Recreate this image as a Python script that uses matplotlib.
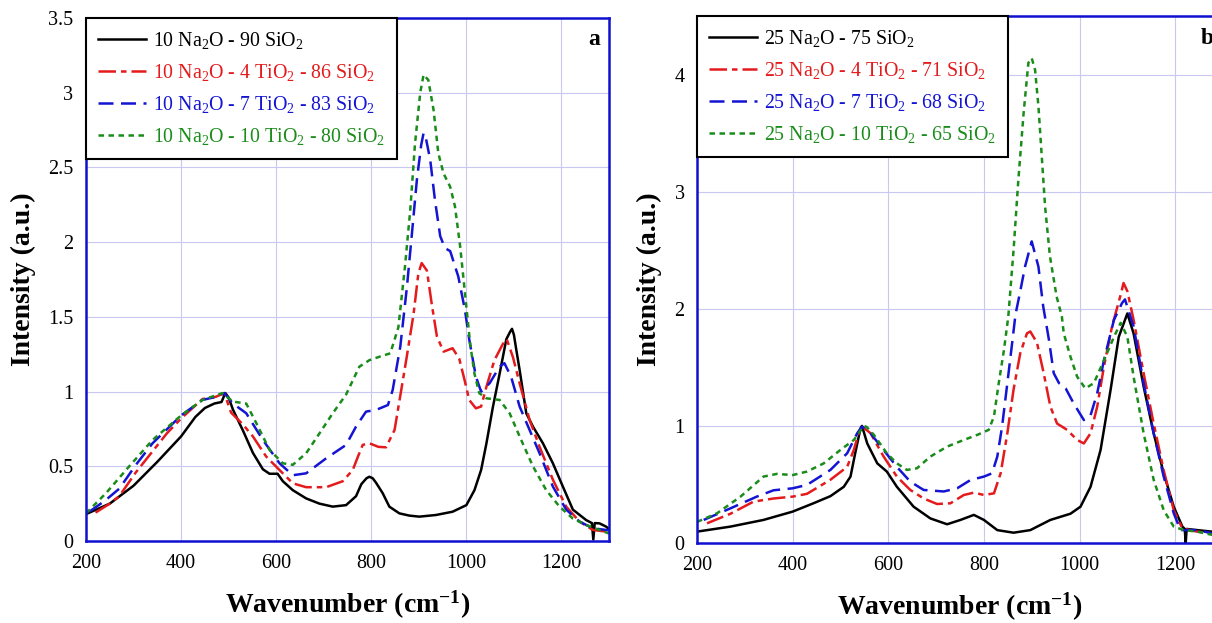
import matplotlib
matplotlib.use("Agg")
import matplotlib.pyplot as plt
from matplotlib.ticker import FuncFormatter, MultipleLocator

plt.rcParams['font.family'] = ['Liberation Serif', 'DejaVu Serif']
plt.rcParams['mathtext.fontset'] = 'custom'
plt.rcParams['mathtext.rm'] = 'Liberation Serif'
plt.rcParams['mathtext.it'] = 'Liberation Serif:italic'
plt.rcParams['mathtext.bf'] = 'Liberation Serif:bold'

# ---------------- Panel a data ----------------
a_black_w = [200, 250, 300, 350, 400, 430, 450, 470, 485, 493, 500, 509, 530, 551, 572, 586, 603, 614, 635, 663,
             691, 719, 747, 768, 779, 790, 796, 803, 810, 824, 838, 859, 880, 901, 936, 971, 1000, 1017, 1031, 1042,
             1056, 1070, 1084, 1092, 1096, 1100, 1105, 1112, 1126, 1140, 1161, 1182, 1203, 1224, 1252, 1264, 1267,
             1270, 1280, 1294, 1300]
a_black_i = [0.18, 0.25, 0.37, 0.53, 0.70, 0.83, 0.89, 0.92, 0.93, 0.99, 0.96, 0.88, 0.74, 0.59, 0.48, 0.45, 0.45,
             0.40, 0.34, 0.285, 0.25, 0.23, 0.24, 0.30, 0.38, 0.42, 0.43, 0.42, 0.39, 0.32, 0.23, 0.185, 0.17, 0.163,
             0.174, 0.196, 0.24, 0.34, 0.475, 0.65, 0.90, 1.12, 1.35, 1.40, 1.42, 1.38, 1.28, 1.145, 0.855, 0.766,
             0.654, 0.52, 0.364, 0.21, 0.14, 0.12, 0.01, 0.12, 0.118, 0.096, 0.08]

a_red_w = [220, 250, 270, 305, 340, 370, 400, 445, 473, 491, 505, 530, 551, 579, 607, 635, 663, 705, 740, 761, 772,
           782, 796, 815, 831, 849, 863, 875, 889, 899, 906, 917, 927, 938, 952, 971, 985, 996, 1006, 1020, 1031,
           1042, 1059, 1077, 1085, 1098, 1112, 1133, 1154, 1182, 1210, 1238, 1266, 1294, 1300]
a_red_i = [0.19, 0.25, 0.30, 0.46, 0.60, 0.72, 0.82, 0.95, 0.965, 0.99, 0.86, 0.78, 0.70, 0.565, 0.475, 0.386, 0.36,
           0.36, 0.40, 0.475, 0.565, 0.643, 0.654, 0.63, 0.627, 0.743, 1.01, 1.24, 1.52, 1.79, 1.86, 1.81, 1.59,
           1.37, 1.267, 1.29, 1.22, 1.08, 0.944, 0.888, 0.90, 1.03, 1.21, 1.32, 1.35, 1.23, 1.056, 0.81, 0.63, 0.41,
           0.23, 0.13, 0.074, 0.063, 0.06]

a_blue_w = [207, 240, 270, 305, 340, 400, 445, 477, 491, 509, 537, 572, 607, 635, 663, 705, 747, 768, 789, 810, 835,
            845, 856, 861, 875, 885, 896, 905, 910, 914, 924, 934, 945, 955, 966, 983, 997, 1006, 1011, 1020, 1031,
            1049, 1070, 1080, 1094, 1112, 1133, 1154, 1182, 1210, 1238, 1266, 1294, 1300]
a_blue_i = [0.196, 0.27, 0.35, 0.51, 0.654, 0.84, 0.944, 0.967, 0.99, 0.92, 0.855, 0.676, 0.52, 0.44, 0.453, 0.553,
            0.643, 0.766, 0.866, 0.877, 0.91, 1.01, 1.21, 1.30, 1.70, 2.04, 2.42, 2.65, 2.73, 2.71, 2.55, 2.28, 2.04,
            1.96, 1.94, 1.77, 1.546, 1.35, 1.26, 1.10, 1.0, 1.056, 1.167, 1.19, 1.10, 0.90, 0.743, 0.587, 0.364,
            0.21, 0.13, 0.085, 0.074, 0.07]

a_green_w = [200, 242, 291, 340, 400, 445, 487, 509, 537, 558, 586, 614, 635, 663, 691, 719, 747, 775, 796, 818,
             840, 857, 871, 882, 892, 903, 910, 920, 931, 941, 952, 966, 976, 987, 997, 1008, 1017, 1027, 1042,
             1070, 1091, 1112, 1140, 1168, 1196, 1224, 1252, 1280, 1300]
a_green_i = [0.185, 0.32, 0.50, 0.676, 0.84, 0.944, 0.99, 0.933, 0.92, 0.79, 0.61, 0.52, 0.51, 0.587, 0.72, 0.855,
             0.98, 1.167, 1.21, 1.234, 1.256, 1.43, 1.84, 2.215, 2.66, 3.0, 3.12, 3.085, 2.885, 2.595, 2.46, 2.37,
             2.24, 1.97, 1.66, 1.32, 1.12, 0.99, 0.955, 0.944, 0.855, 0.70, 0.50, 0.34, 0.23, 0.15, 0.107, 0.074,
             0.05]

# ---------------- Panel b data ----------------
b_black_w = [200, 270, 339, 400, 444, 479, 507, 521, 531, 542, 545, 556, 577, 597, 618, 653, 688, 723, 751, 779,
             800, 828, 862, 897, 939, 981, 1002, 1023, 1044, 1065, 1082, 1100, 1113, 1134, 1155, 1176, 1197, 1215,
             1220, 1222, 1224, 1246, 1277, 1300]
b_black_i = [0.097, 0.14, 0.197, 0.268, 0.34, 0.40, 0.48, 0.567, 0.77, 0.98, 1.0, 0.85, 0.68, 0.61, 0.48, 0.31,
             0.21, 0.16, 0.197, 0.24, 0.197, 0.11, 0.088, 0.11, 0.197, 0.25, 0.31, 0.48, 0.795, 1.31, 1.76, 1.96,
             1.79, 1.336, 0.937, 0.595, 0.31, 0.14, 0.12, 0.0, 0.12, 0.11, 0.097, 0.09]

b_red_w = [221, 270, 318, 360, 400, 430, 479, 514, 528, 542, 547, 563, 590, 618, 646, 674, 702, 730, 758, 779, 800,
           821, 835, 849, 862, 876, 890, 897, 911, 925, 939, 953, 974, 995, 1009, 1023, 1037, 1051, 1068, 1086,
           1092, 1100, 1113, 1134, 1155, 1176, 1197, 1215, 1246, 1277, 1300]
b_red_i = [0.168, 0.25, 0.353, 0.38, 0.396, 0.42, 0.54, 0.65, 0.795, 0.994, 0.99, 0.937, 0.74, 0.567, 0.453, 0.38,
           0.333, 0.339, 0.41, 0.43, 0.41, 0.424, 0.595, 0.937, 1.31, 1.62, 1.79, 1.806, 1.71, 1.45, 1.165, 1.02,
           0.966, 0.88, 0.85, 0.937, 1.165, 1.507, 1.85, 2.12, 2.22, 2.15, 1.906, 1.45, 1.02, 0.62, 0.28, 0.125,
           0.097, 0.083, 0.08]

b_blue_w = [214, 270, 325, 360, 400, 430, 479, 514, 535, 545, 563, 590, 618, 646, 674, 716, 744, 772, 800, 817, 828,
            838, 849, 859, 866, 876, 886, 900, 914, 924, 936, 946, 957, 971, 988, 1009, 1023, 1037, 1051, 1072, 1089,
            1095, 1113, 1134, 1155, 1176, 1197, 1211, 1246, 1277, 1300]
b_blue_i = [0.197, 0.296, 0.396, 0.45, 0.467, 0.496, 0.624, 0.766, 0.937, 0.994, 0.937, 0.795, 0.65, 0.524, 0.453,
            0.44, 0.467, 0.538, 0.567, 0.595, 0.738, 0.994, 1.365, 1.706, 1.95, 2.15, 2.36, 2.575, 2.36, 2.02, 1.735,
            1.45, 1.365, 1.32, 1.19, 1.05, 1.09, 1.28, 1.56, 1.906, 2.05, 2.08, 1.85, 1.365, 0.937, 0.567, 0.254,
            0.11, 0.11, 0.083, 0.08]

b_green_w = [200, 242, 291, 339, 367, 400, 430, 465, 500, 528, 549, 555, 570, 597, 618, 639, 660, 688, 723, 758,
             786, 810, 821, 831, 842, 851, 862, 872, 883, 893, 900, 907, 914, 921, 928, 938, 952, 963, 967, 981,
             995, 1012, 1030, 1051, 1072, 1086, 1100, 1113, 1134, 1155, 1176, 1197, 1218, 1246, 1277, 1300]
b_green_i = [0.18, 0.254, 0.396, 0.567, 0.59, 0.58, 0.61, 0.68, 0.795, 0.88, 1.0, 0.99, 0.923, 0.766, 0.68, 0.624,
             0.638, 0.738, 0.823, 0.88, 0.923, 0.966, 1.08, 1.365, 1.65, 1.934, 2.50, 3.10, 3.67, 4.10, 4.14, 4.04,
             3.73, 3.30, 2.87, 2.45, 2.105, 1.934, 1.79, 1.59, 1.42, 1.32, 1.365, 1.56, 1.76, 1.88, 1.76, 1.42,
             0.937, 0.54, 0.28, 0.14, 0.11, 0.097, 0.07, 0.07]

labels_a = ["10 Na$_2$O - 90 SiO$_2$", "10 Na$_2$O - 4 TiO$_2$ - 86 SiO$_2$",
            "10 Na$_2$O - 7 TiO$_2$ - 83 SiO$_2$", "10 Na$_2$O - 10 TiO$_2$ - 80 SiO$_2$"]
labels_b = ["25 Na$_2$O - 75 SiO$_2$", "25 Na$_2$O - 4 TiO$_2$ - 71 SiO$_2$",
            "25 Na$_2$O - 7 TiO$_2$ - 68 SiO$_2$", "25 Na$_2$O - 10 TiO$_2$ - 65 SiO$_2$"]

colors = ['black', '#e41a1c', '#1414d2', '#1a8c1a']
styles = ['-', (0, (7, 2, 2.2, 2)), (0, (6, 3)), (0, (2.2, 1.8))]

W, H = 1212, 623
fig = plt.figure(figsize=(W / 100, H / 100), dpi=100)
ax1 = fig.add_axes([86 / W, (H - 541) / H, 523 / W, 523 / H])
ax2 = fig.add_axes([697 / W, (H - 543) / H, 526 / W, 527 / H])

series_a = [(a_black_w, a_black_i), (a_red_w, a_red_i), (a_blue_w, a_blue_i), (a_green_w, a_green_i)]
series_b = [(b_black_w, b_black_i), (b_red_w, b_red_i), (b_blue_w, b_blue_i), (b_green_w, b_green_i)]

fmt = FuncFormatter(lambda v, p: '%g' % v)

for ax, series, labels, ymax, ystep, letter in [(ax1, series_a, labels_a, 3.5, 0.5, 'a'),
                                                 (ax2, series_b, labels_b, 4.5, 1.0, 'b')]:
    for (w, i), c, ls, lab in zip(series, colors, styles, labels):
        ax.plot(w, i, color=c, linestyle=ls, lw=1.8, label=lab)
    ax.set_xlim(200, 1300)
    ax.set_ylim(0, ymax)
    ax.xaxis.set_major_locator(MultipleLocator(200))
    ax.yaxis.set_major_locator(MultipleLocator(ystep))
    ax.xaxis.set_major_formatter(fmt)
    ax.yaxis.set_major_formatter(fmt)
    ax.grid(True, color='#c8c8f0', lw=0.8)
    ax.set_axisbelow(True)
    for s in ax.spines.values():
        s.set_color('#1010d0')
        s.set_linewidth(1.8)
    ax.tick_params(length=0, labelsize=14.5, pad=9)
    ax.set_xlabel('Wavenumber (cm$^{\\mathbf{-1}}$)', fontsize=20, fontweight='bold', labelpad=12)
    ax.set_ylabel('Intensity (a.u.)', fontsize=20, fontweight='bold', labelpad=9)
    ax.text(0.971, 0.958, letter, transform=ax.transAxes, fontsize=17, fontweight='bold',
            ha='center', va='center')
    leg = ax.legend(loc='upper left', bbox_to_anchor=(0, 1), borderaxespad=0, fontsize=14.3,
                    fancybox=False, framealpha=1, edgecolor='black', handlelength=2.4,
                    handletextpad=0.35, borderpad=0.62, labelspacing=0.55)
    leg.get_frame().set_linewidth(1.5)
    for t, c in zip(leg.get_texts(), colors):
        t.set_color(c)

fig.savefig('out.png', dpi=100)
